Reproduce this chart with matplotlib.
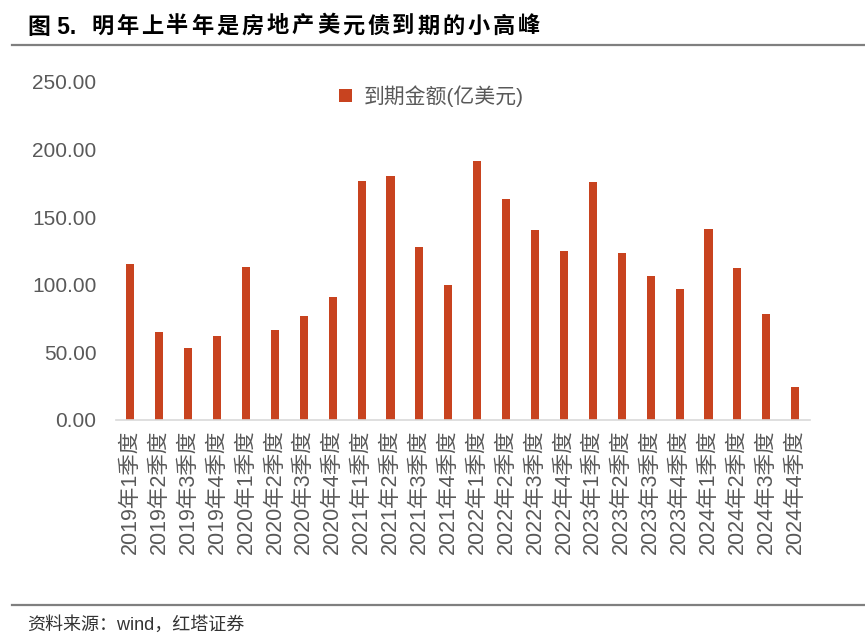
import numpy as np
import matplotlib.pyplot as plt
from matplotlib.lines import Line2D

plt.rcParams['font.family'] = ['Liberation Sans', 'Noto Sans CJK SC', 'DejaVu Sans']

# quarterly maturities (100m USD)
years = ["2019", "2020", "2021", "2022", "2023", "2024"]
quarters = ["1", "2", "3", "4"]
labels = [y + "年" + q + "季度" for y in years for q in quarters]
values = [115.5, 65, 53.5, 62, 113, 66.5, 76.5, 90.5,
          177, 180, 127.5, 100, 191.5, 163, 140.5, 125,
          176, 123.5, 106.5, 97, 141, 112, 78, 24.5]

title_head = "图 5."
title_body = "明年上半年是房地产美元债到期的小高峰"
legend_label = "到期金额(亿美元)"
source = "资料来源：wind，红塔证券"
yticks = [0, 50, 100, 150, 200, 250]

bar_color = "#C8431F"
text_color = "#595959"

W, H = 865, 644
fig = plt.figure(figsize=(W / 100, H / 100), dpi=100)
ax = fig.add_axes([0.134, 0.348, 0.802, 0.525])

x = np.arange(len(values))
ax.bar(x, values, width=0.28, color=bar_color, label=legend_label)

ax.set_ylim(0, 250)
ax.set_xlim(-0.5, len(values) - 0.5)
ax.set_yticks(yticks)
ax.set_yticklabels(["%.2f" % v for v in yticks], fontsize=15, color=text_color)
ax.set_xticks(x)
ax.set_xticklabels(labels, rotation=90, fontsize=15.5, color=text_color)
ax.tick_params(axis='both', length=0)
ax.tick_params(axis='x', pad=7)
ax.tick_params(axis='y', pad=14)

for s in ["top", "right", "left"]:
    ax.spines[s].set_visible(False)
ax.spines["bottom"].set_color("#D9D9D9")
ax.spines["bottom"].set_linewidth(1.2)

leg = ax.legend(loc="upper center", bbox_to_anchor=(0.455, 1.045), frameon=False,
                fontsize=15, handlelength=0.6, handleheight=0.6, handletextpad=0.6)
for t in leg.get_texts():
    t.set_color(text_color)

# title, spaced out character by character like the original
ty = 1 - 27 / H
fig.text(28 / W, ty, title_head, fontsize=16.5, fontweight="bold", color="black",
         va="center", ha="left")
for i, ch in enumerate(title_body):
    fig.text((91 + 25.1 * i) / W, ty, ch, fontsize=16, fontweight="bold",
             color="black", va="center", ha="left")

fig.add_artist(Line2D([0.014, 1.0], [0.930, 0.930], color="#7F7F7F", linewidth=1.6))
fig.add_artist(Line2D([0.014, 1.0], [0.061, 0.061], color="#7F7F7F", linewidth=1.6))

fig.text(0.031, 0.029, source, fontsize=13, color="#333333", va="center", ha="left")

fig.savefig("out.png", dpi=100)
